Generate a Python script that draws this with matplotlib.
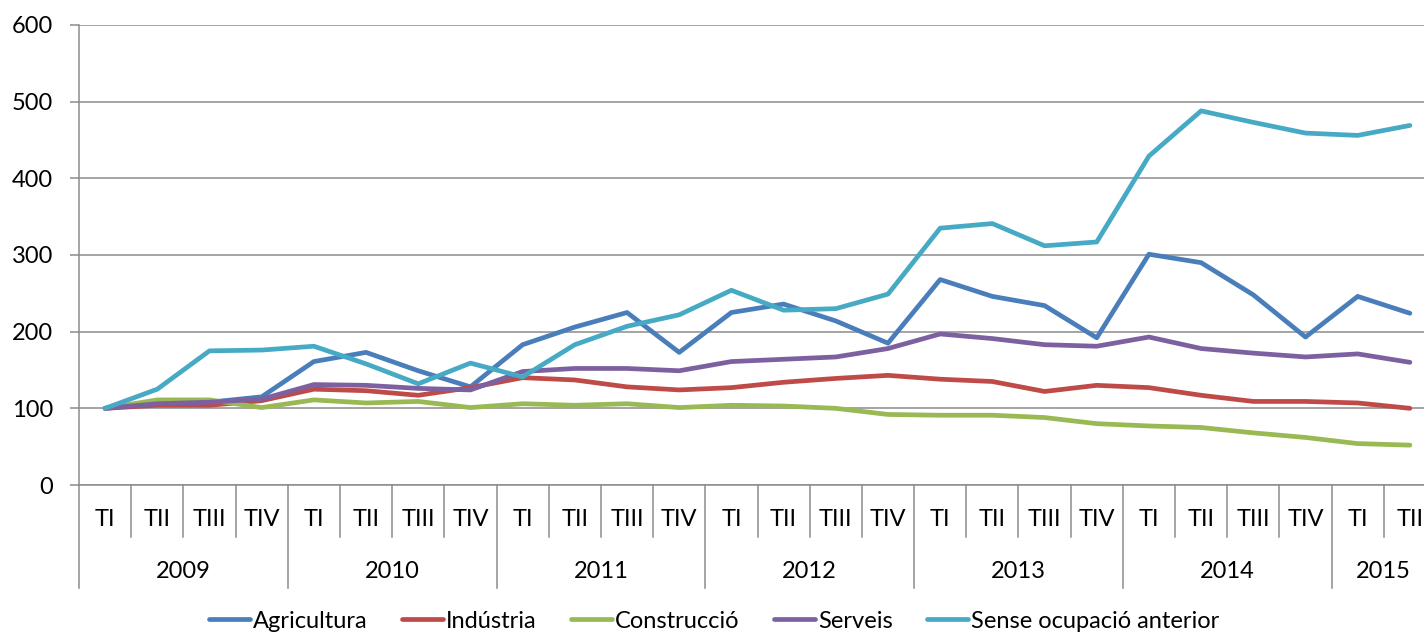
import matplotlib.pyplot as plt
import matplotlib.transforms as mtransforms

plt.rcParams['font.family'] = ['Lato', 'DejaVu Sans']

years = ["2009", "2010", "2011", "2012", "2013", "2014", "2015"]
quarters_per_year = [4, 4, 4, 4, 4, 4, 2]
quarter_names = ["TI", "TII", "TIII", "TIV"]

agricultura = [100, 108, 108, 115, 161, 173, 149, 128,
               183, 206, 225, 173, 225, 236, 214, 185,
               268, 246, 234, 192, 301, 290, 248, 193,
               246, 224]
industria = [100, 104, 104, 110, 125, 123, 117, 127,
             140, 137, 128, 124, 127, 134, 139, 143,
             138, 135, 122, 130, 127, 117, 109, 109,
             107, 100]
construccio = [100, 111, 111, 101, 111, 107, 109, 101,
               106, 104, 106, 101, 104, 103, 100, 92,
               91, 91, 88, 80, 77, 75, 68, 62,
               54, 52]
serveis = [100, 106, 108, 112, 131, 130, 126, 124,
           148, 152, 152, 149, 161, 164, 167, 178,
           197, 191, 183, 181, 193, 178, 172, 167,
           171, 160]
sense_ocupacio = [100, 125, 175, 176, 181, 158, 132, 159,
                  141, 183, 207, 222, 254, 228, 230, 249,
                  335, 341, 312, 317, 429, 488, 473, 459,
                  456, 469]

series = [
    ("Agricultura", agricultura, "#4A7EBB"),
    ("Indústria", industria, "#BE4B48"),
    ("Construcció", construccio, "#98B954"),
    ("Serveis", serveis, "#7D60A0"),
    ("Sense ocupació anterior", sense_ocupacio, "#46AAC5"),
]

W, H = 1424, 635
fig = plt.figure(figsize=(W / 100, H / 100), dpi=100)
# axes runs past the right edge, like the cropped original
ax = fig.add_axes([79 / W, 1 - 485 / H, 1357 / W, 460 / H])

n = len(agricultura)
x = list(range(n))
for name, vals, color in series:
    ax.plot(x, vals, color=color, lw=3.4, label=name, solid_capstyle="round",
            solid_joinstyle="round")

ax.set_xlim(-0.5, n - 0.5)
ax.set_ylim(0, 600)
ax.set_yticks(range(0, 601, 100))
ax.yaxis.grid(True, color="#8C8C8C", lw=1.1)
ax.set_axisbelow(True)
ax.tick_params(axis="y", length=6.5, width=1.1, color="#8C8C8C", pad=12, labelsize=17)
ax.set_xticks([])
for s in ["top", "right"]:
    ax.spines[s].set_visible(False)
ax.spines["left"].set_color("#8C8C8C")
ax.spines["bottom"].set_color("#8C8C8C")
ax.spines["left"].set_linewidth(1.1)
ax.spines["bottom"].set_linewidth(1.1)

# two-level category axis
trans = mtransforms.blended_transform_factory(ax.transData, ax.transAxes)
q_y, y_y = -0.076, -0.189
q_line, y_line = -0.113, -0.224
pos = 0
for year, nq in zip(years, quarters_per_year):
    ax.plot([pos - 0.5, pos - 0.5], [0, y_line], transform=trans, color="#8C8C8C",
            lw=1.1, clip_on=False)
    for q in range(nq):
        i = pos + q
        if q > 0:
            ax.plot([i - 0.5, i - 0.5], [0, q_line], transform=trans, color="#8C8C8C",
                    lw=1.1, clip_on=False)
        ax.text(i, q_y, quarter_names[q], transform=trans, ha="center", va="center",
                fontsize=17)
    ax.text(pos + (nq - 1) / 2, y_y, year, transform=trans, ha="center", va="center",
            fontsize=17)
    pos += nq
ax.plot([pos - 0.5, pos - 0.5], [0, y_line], transform=trans, color="#8C8C8C",
        lw=1.1, clip_on=False)

fig.legend(loc="center", bbox_to_anchor=(714 / W, 1 - 621 / H), ncol=5, frameon=False,
           fontsize=17, handlelength=1.75, handletextpad=0.12, columnspacing=1.45)

fig.savefig("out.png", dpi=100)
